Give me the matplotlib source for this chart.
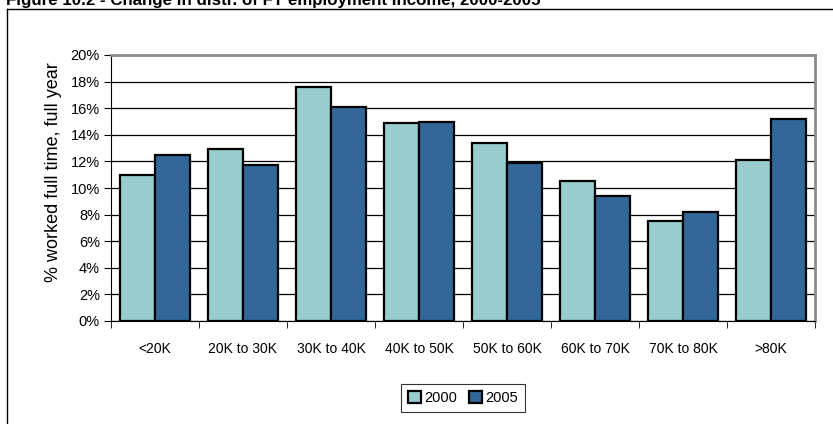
import matplotlib.pyplot as plt
import numpy as np
from matplotlib.lines import Line2D

categories = ['<20K', '20K to 30K', '30K to 40K', '40K to 50K',
              '50K to 60K', '60K to 70K', '70K to 80K', '>80K']
share_2000 = [11.0, 12.9, 17.6, 14.9, 13.4, 10.5, 7.5, 12.1]
share_2005 = [12.5, 11.7, 16.1, 15.0, 11.9, 9.4, 8.2, 15.2]
yticks = [0, 2, 4, 6, 8, 10, 12, 14, 16, 18, 20]


def main():
    plt.rcParams['font.family'] = 'Liberation Sans'
    W, H = 833, 424
    fig = plt.figure(figsize=(W / 100, H / 100), dpi=100)

    # outer chart frame (top and left only visible)
    fig.add_artist(Line2D([7 / W, 7 / W], [0, 1 - 9 / H], transform=fig.transFigure,
                          color='black', lw=1.0))
    fig.add_artist(Line2D([7 / W, 1], [1 - 9 / H, 1 - 9 / H], transform=fig.transFigure,
                          color='black', lw=1.0))

    # title, clipped at top of image as in the source
    fig.text(6 / W, 1 - 5.5 / H, 'Figure 10.2 - Change in distr. of FT employment income, 2000-2005',
             ha='left', va='baseline', fontsize=12.2, fontweight='bold')

    left, right, top, bottom = 111, 815, 55, 321
    ax = fig.add_axes([left / W, 1 - bottom / H, (right - left) / W, (bottom - top) / H])

    x = np.arange(len(categories))
    w = 0.4
    ax.bar(x - w / 2, share_2000, w, color='#99CCCC', edgecolor='black', lw=1.6,
           label='2000', zorder=3)
    ax.bar(x + w / 2, share_2005, w, color='#336699', edgecolor='black', lw=1.6,
           label='2005', zorder=3)

    ax.set_xlim(-0.5, len(categories) - 0.5)
    ax.set_ylim(0, 20)
    ax.set_yticks(yticks)
    ax.set_yticklabels([f'{v}%' for v in yticks], fontsize=10.5)
    ax.yaxis.grid(True, color='black', lw=0.9, zorder=0)
    ax.set_axisbelow(True)

    ax.set_xticks(x)
    ax.set_xticklabels(categories, fontsize=10)
    ax.tick_params(axis='x', which='major', length=0, pad=15)
    ax.set_xticks(np.arange(-0.5, len(categories), 1), minor=True)
    ax.tick_params(axis='x', which='minor', length=5, direction='out', color='black')
    ax.tick_params(axis='y', length=5, direction='out', color='black', pad=3)

    for s in ['top', 'right']:
        ax.spines[s].set_color('#8c8c8c')
        ax.spines[s].set_linewidth(2)
    ax.spines['left'].set_color('black')
    ax.spines['bottom'].set_color('black')

    fig.text(54 / W, 1 - 172 / H, '% worked full time, full year', rotation=90,
             ha='center', va='center', fontsize=13,
             family=['Liberation Sans Narrow', 'Liberation Sans'])

    leg = fig.legend(loc='center', bbox_to_anchor=(463 / W, 1 - 398 / H), ncol=2,
                     fontsize=10.5, frameon=True, fancybox=False, edgecolor='black',
                     handlelength=0.9, handleheight=0.9, handletextpad=0.2,
                     columnspacing=0.8, borderpad=0.5, borderaxespad=0)
    leg.get_frame().set_linewidth(0.8)

    fig.savefig('out.png', dpi=100)


if __name__ == '__main__':
    main()
